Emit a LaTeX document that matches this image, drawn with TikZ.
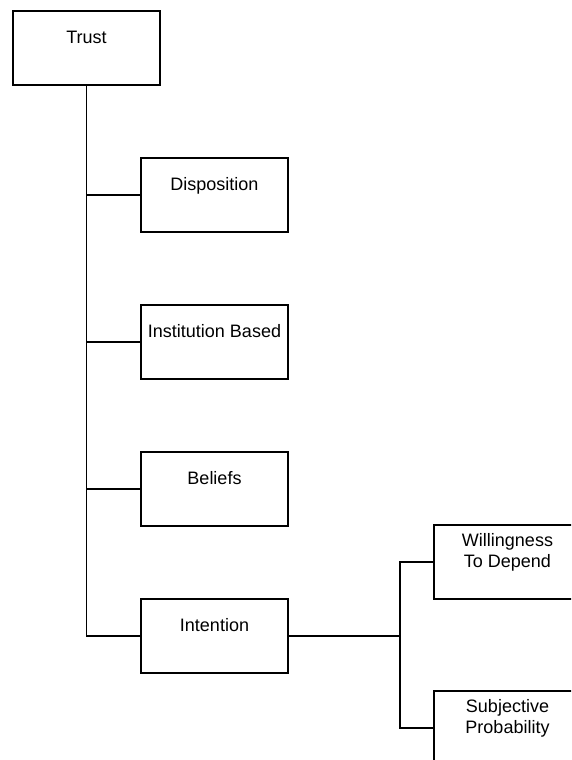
\documentclass[tikz,border=0pt]{standalone}
\usepackage{fontspec}
\setmainfont{Liberation Sans}
\usepackage{xcolor}
\usetikzlibrary{positioning}
\tikzset{
  box/.style={draw=black, line width=1.1pt, minimum width=147pt, minimum height=74pt, inner sep=0pt},
  lab/.style={inner sep=0pt, align=center, font=\fontsize{18}{21}\selectfont},
  conn/.style={draw=black, line width=1.1pt, line join=miter},
  trunk/.style={draw=black, line width=1.6pt},
}
\begin{document}
\begin{tikzpicture}[x=1pt,y=-1pt]
  \useasboundingbox (0,0) rectangle (571,760);
  \clip (0,0) rectangle (571,760);

  % boxes
  \node[box] (trust) at (86.5,48) {};
  \node[box] (disp)  at (214.5,195) {};
  \node[box] (inst)  at (214.5,342) {};
  \node[box] (bel)   at (214.5,489) {};
  \node[box] (inten) at (214.5,636) {};
  \node[box] (will)  at (507.5,562) {};
  \node[box] (subj)  at (507.5,728) {};

  % texts
  \node[lab, below=20pt of trust.north] (trusttxt) {Trust};
  \node[lab, below=20pt of disp.north]  (disptxt)  {Disposition};
  \node[lab, below=20pt of inst.north]  (insttxt)  {Institution Based};
  \node[lab, below=20pt of bel.north]   (beltxt)   {Beliefs};
  \node[lab, below=20pt of inten.north] (intentxt) {Intention};
  \node[lab, below=9pt of will.north]   (willtxt)  {Willingness\\To Depend};
  \node[lab, below=9pt of subj.north]   (subjtxt)  {Subjective\\Probability};

  % tree
  \draw[trunk] (trust.south) -- (trust.south |- bel.west);
  \draw[conn] (trust.south |- bel.west) |- (inten.west);
  \draw[conn] (trust.south |- disp.west) -- (disp.west);
  \draw[conn] (trust.south |- inst.west) -- (inst.west);
  \draw[conn] (trust.south |- bel.west) -- (bel.west);

  \coordinate (fork) at (400,636);
  \draw[conn] (inten.east) -- (fork);
  \draw[conn] (fork) |- (will.west);
  \draw[conn] (fork) |- (subj.west);
\end{tikzpicture}
\end{document}
